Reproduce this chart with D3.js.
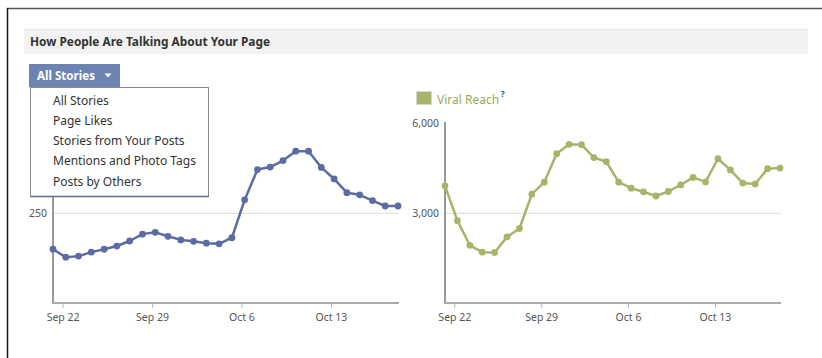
<!DOCTYPE html>
<html>
<head>
<meta charset="utf-8">
<script src="https://cdn.jsdelivr.net/npm/d3@7"></script>
<style>
  html, body { margin: 0; padding: 0; background: #fff; }
  svg { display: block; font-family: "Noto Sans", "DejaVu Sans", sans-serif; }
</style>
</head>
<body>
<svg id="chart" width="822" height="358"></svg>
<script>
// Daily sample dates (one point per day)
const days = [
  "2012-09-21", "2012-09-22", "2012-09-23", "2012-09-24", "2012-09-25", "2012-09-26", "2012-09-27",
  "2012-09-28", "2012-09-29", "2012-09-30", "2012-10-01", "2012-10-02", "2012-10-03", "2012-10-04",
  "2012-10-05", "2012-10-06", "2012-10-07", "2012-10-08", "2012-10-09", "2012-10-10", "2012-10-11",
  "2012-10-12", "2012-10-13", "2012-10-14", "2012-10-15", "2012-10-16", "2012-10-17", "2012-10-18"
];
// People talking about the page, per day
const talkingValues = [149, 127, 130, 141, 149, 158, 172, 191, 196, 185, 175, 171, 166, 164,
                       181, 286, 370, 377, 395, 421, 421, 376, 344, 306, 300, 284, 269, 269];
// Viral reach, per day
const viralValues = [3900, 2740, 1920, 1690, 1680, 2200, 2480, 3620, 4020, 4970, 5280, 5270, 4840, 4700,
                     4020, 3820, 3700, 3560, 3710, 3930, 4180, 4030, 4800, 4430, 3990, 3960, 4470, 4490];
const xTickLabels = ["2012-09-22", "2012-09-29", "2012-10-06", "2012-10-13"];
const leftYTicks = [250];
const rightYTicks = [3000, 6000];
const menuItems = ["All Stories", "Page Likes", "Stories from Your Posts", "Mentions and Photo Tags", "Posts by Others"];
const headerTitle = "How People Are Talking About Your Page";
const legendLabel = "Viral Reach";

const svg = d3.select("#chart");
const parse = s => { const d = d3.timeParse("%Y-%m-%d")(s); d.setHours(6); return d; };
const parseTick = d3.timeParse("%Y-%m-%d");
const dates = days.map(parse);

// page frame
svg.append("line").attr("x1", 7).attr("x2", 822).attr("y1", 8.5).attr("y2", 8.5)
  .attr("stroke", "#555").attr("stroke-width", 1.5);
svg.append("line").attr("x1", 7.5).attr("x2", 7.5).attr("y1", 8).attr("y2", 358)
  .attr("stroke", "#111").attr("stroke-width", 1.5);

// section header
svg.append("rect").attr("x", 24).attr("y", 29).attr("width", 784).attr("height", 25).attr("fill", "#f2f2f2");
svg.append("line").attr("x1", 24).attr("x2", 808).attr("y1", 29.5).attr("y2", 29.5).attr("stroke", "#e6e6e6");
svg.append("text").attr("x", 30).attr("y", 46).attr("font-size", 11.5).attr("font-weight", "bold")
  .attr("fill", "#333").attr("textLength", 240).attr("lengthAdjust", "spacingAndGlyphs").text(headerTitle);

function drawPanel(cfg) {
  const g = svg.append("g");
  const x = d3.scaleTime().domain(d3.extent(dates)).range([cfg.x0, cfg.x1]);
  const y = d3.scaleLinear().domain([0, cfg.yMax]).range([303, 122.7]);

  // gridlines
  g.append("g").selectAll("line").data(cfg.yTicks.filter(v => v < cfg.yMax)).join("line")
    .attr("x1", cfg.x0).attr("x2", cfg.x1 + 1).attr("y1", d => y(d) + 0.5).attr("y2", d => y(d) + 0.5)
    .attr("stroke", "#dcdcdc");

  // y axis
  const ya = g.append("g").attr("transform", `translate(${cfg.x0},0)`)
    .call(d3.axisLeft(y).tickValues(cfg.yTicks).tickSize(0).tickPadding(6).tickFormat(d3.format(",")));
  ya.select(".domain").remove();
  ya.selectAll("text").attr("font-size", 10.5).attr("fill", "#555").attr("font-family", "Noto Sans, sans-serif");
  g.append("line").attr("x1", cfg.x0).attr("x2", cfg.x0).attr("y1", 122).attr("y2", 304)
    .attr("stroke", "#999").attr("stroke-width", 2);

  // x axis
  const xa = g.append("g").attr("transform", "translate(0,303)")
    .call(d3.axisBottom(x).tickValues(xTickLabels.map(parseTick)).tickSize(5).tickPadding(6)
      .tickFormat(d3.timeFormat("%b %-d")));
  xa.select(".domain").remove();
  xa.selectAll("line").attr("stroke", "#bbb");
  xa.selectAll("text").attr("font-size", 10.5).attr("fill", "#555").attr("font-family", "Noto Sans, sans-serif");
  g.append("line").attr("x1", cfg.x0 - 1).attr("x2", cfg.x1 + 1).attr("y1", 303).attr("y2", 303)
    .attr("stroke", "#aaa").attr("stroke-width", 2);

  // series
  const pts = dates.map((d, i) => ({ d, v: cfg.values[i] }));
  g.append("path").datum(pts)
    .attr("d", d3.line().x(p => x(p.d)).y(p => y(p.v)))
    .attr("fill", "none").attr("stroke", cfg.color).attr("stroke-width", 2.5).attr("stroke-linejoin", "round");
  g.append("g").selectAll("circle").data(pts).join("circle")
    .attr("cx", p => x(p.d)).attr("cy", p => y(p.v)).attr("r", 3.4).attr("fill", cfg.color);
  return g;
}

drawPanel({ x0: 53, x1: 398, yMax: 500, yTicks: leftYTicks, values: talkingValues, color: "#5a6ca3" });
drawPanel({ x0: 445, x1: 780, yMax: 6000, yTicks: rightYTicks, values: viralValues, color: "#a8b568" });

// legend of the right panel
const lg = svg.append("g");
lg.append("rect").attr("x", 416.5).attr("y", 91.5).attr("width", 15).attr("height", 13)
  .attr("fill", "#a8b568").attr("stroke", "#d5d5d5");
const lt = lg.append("text").attr("x", 437).attr("y", 103.5).attr("font-size", 12).attr("fill", "#9aab5a").text(legendLabel);
const lw = lt.node().getComputedTextLength();
lg.append("text").attr("x", 437 + lw + 1.5).attr("y", 97).attr("font-size", 9).attr("font-weight", "bold")
  .attr("fill", "#3b5998").text("?");

// story type selector with its open menu
const dd = svg.append("g");
dd.append("rect").attr("x", 30.5).attr("y", 87.5).attr("width", 178).attr("height", 109)
  .attr("fill", "#fff").attr("stroke", "#8a8a8a");
dd.append("line").attr("x1", 30).attr("x2", 209).attr("y1", 196.5).attr("y2", 196.5)
  .attr("stroke", "#5d6d92").attr("stroke-width", 1.5);
dd.append("rect").attr("x", 29).attr("y", 64).attr("width", 91).attr("height", 23).attr("fill", "#6d83b2");
dd.append("text").attr("x", 37).attr("y", 80).attr("font-size", 12).attr("font-weight", "bold")
  .attr("fill", "#fff").attr("textLength", 58).attr("lengthAdjust", "spacingAndGlyphs").text(menuItems[0]);
dd.append("path").attr("d", "M104.5,73.5 L111.5,73.5 L108,77.5 Z").attr("fill", "#fff");
dd.append("g").selectAll("text").data(menuItems).join("text")
  .attr("x", 53).attr("y", (d, i) => 104.5 + i * 20.25).attr("font-size", 12).attr("fill", "#333").text(d => d);
</script>
</body>
</html>
